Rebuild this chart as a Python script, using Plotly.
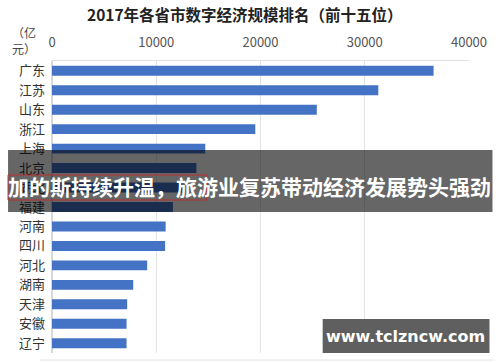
import plotly.graph_objects as go

provinces = ["广东", "江苏", "山东", "浙江", "上海", "北京", "湖北", "福建",
             "河南", "四川", "河北", "湖南", "天津", "安徽", "辽宁"]
values = [36600, 31300, 25400, 19500, 14700, 13850, 12500, 11600,
          10900, 10850, 9130, 7790, 7210, 7150, 7150]
x_ticks = [0, 10000, 20000, 30000, 40000]
title_text = "2017年各省市数字经济规模排名（前十五位）"
unit_text = "（亿<br>元）"
banner_text = "加的斯持续升温，旅游业复苏带动经济发展势头强劲"
watermark_text = "www.tclzncw.com"

W, H = 500, 362
L, R, T, B = 52, 30.5, 61, 9
PW, PH = W - L - R, H - T - B

def px(x):
    return (x - L) / PW

def py(y):
    return (H - B - y) / PH

FONT = "Noto Sans CJK SC, Noto Sans, sans-serif"

fig = go.Figure(go.Bar(
    x=values, y=provinces, orientation="h",
    marker=dict(color="#4472C4", line=dict(width=0)),
    hoverinfo="skip",
))

fig.update_layout(
    width=W, height=H,
    margin=dict(l=L, r=R, t=T, b=B, autoexpand=False),
    paper_bgcolor="white", plot_bgcolor="white",
    bargap=0.49,
    showlegend=False,
    font=dict(family=FONT, color="#444"),
    xaxis=dict(
        side="top", range=[0, 40000], tickvals=x_ticks,
        ticktext=[str(v) for v in x_ticks], automargin=False,
        showgrid=True, gridcolor="#e4e4e4", gridwidth=1,
        zeroline=True, zerolinecolor="#d8d8d8",
        showline=True, linecolor="#e0e0e0", mirror=False,
        tickfont=dict(size=13, color="#555"), ticks="", ticklabelstandoff=8,
    ),
    yaxis=dict(
        autorange="reversed", categoryorder="array", categoryarray=provinces,
        tickfont=dict(size=13, color="#333"), ticks="", automargin=False,
        showline=False, showgrid=False, ticklabelstandoff=6,
    ),
    shapes=[
        dict(type="line", xref="paper", yref="paper", x0=px(40), x1=px(495),
             y0=py(360), y1=py(360), line=dict(color="#e6e6e6", width=1), layer="above"),
        dict(type="rect", xref="paper", yref="paper", x0=px(8), x1=px(493),
             y0=py(212), y1=py(150), fillcolor="rgba(0,0,0,0.6)",
             line=dict(width=0), layer="above"),
        dict(type="rect", xref="paper", yref="paper", x0=px(8), x1=px(207),
             y0=py(200), y1=py(175), fillcolor="rgba(0,0,0,0)",
             line=dict(color="#b83030", width=1), layer="above"),
        dict(type="rect", xref="paper", yref="paper", x0=px(323), x1=px(490),
             y0=py(353), y1=py(319), fillcolor="#5f5f5f",
             line=dict(width=0), layer="above"),
    ],
    annotations=[
        dict(text="<b>" + title_text + "</b>", xref="paper", yref="paper",
             x=px(245), y=py(14), xanchor="center", yanchor="middle",
             showarrow=False, font=dict(size=15.5, color="#222", family=FONT)),
        dict(text=unit_text, xref="paper", yref="paper",
             x=px(24), y=py(41), xanchor="center", yanchor="middle",
             showarrow=False, font=dict(size=12, color="#444", family=FONT)),
        dict(text="<b>" + banner_text + "</b>", xref="paper", yref="paper",
             x=px(250), y=py(186), xanchor="center", yanchor="middle",
             showarrow=False, font=dict(size=21, color="white", family=FONT)),
        dict(text="<b>" + watermark_text + "</b>", xref="paper", yref="paper",
             x=px(406), y=py(336), xanchor="center", yanchor="middle",
             showarrow=False, font=dict(size=16, color="white",
                                        family="DejaVu Sans, sans-serif")),
    ],
)

fig.write_html("out.html", config={"displayModeBar": False, "staticPlot": True},
               post_script="document.body.style.margin='0';document.body.style.overflow='hidden';")
